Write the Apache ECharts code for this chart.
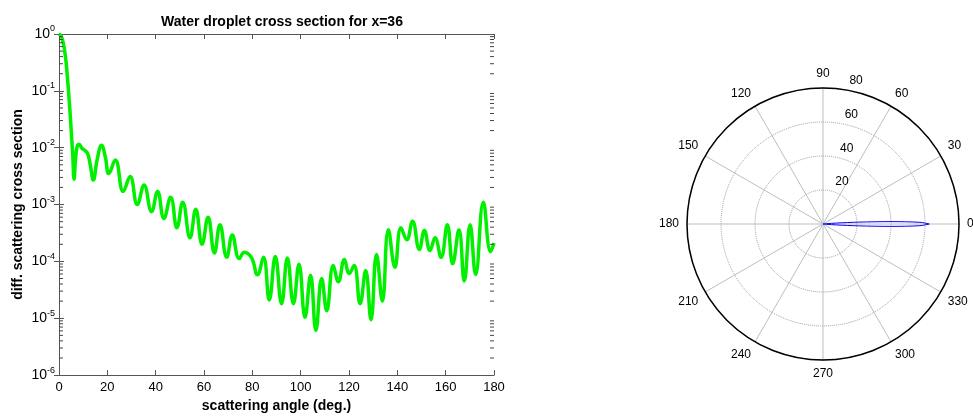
<!DOCTYPE html>
<html style="height: 100%">
<head>
  <meta charset="utf-8">
  <title>Water droplet cross section</title>
  <script src="https://cdn.jsdelivr.net/npm/echarts@6/dist/echarts.min.js"></script>
</head>
<body style="height: 100%; margin: 0; background: #fff">
  <div id="main" style="width: 973px; height: 418px"></div>
  <script type="text/javascript">
    // scattering angle (deg) and differential cross section
    var angleDeg = [0, 1, 2, 2.5, 3, 3.5, 4, 4.6, 5.2, 5.7, 6.25, 6.8, 7.5, 8.3, 9.5, 10.8, 11.9, 13.0, 14.2,
      15.8, 17.6, 19.2, 20.6, 23.3, 26.6, 29.4, 32.4, 35.2, 38.3, 40.8, 43.4, 46.2, 48.8, 51.2, 54.2,
      56.6, 59.2, 61.7, 64.3, 66.6, 69.4, 71.7, 74.6, 76.7, 79.7, 82.1, 84.6, 87.0, 89.5, 92.1, 94.5,
      97.0, 99.3, 101.8, 104.1, 106.3, 108.7, 110.8, 113.5, 115.6, 118.1, 120.1, 122.1, 124.6, 126.9,
      129.1, 131.4, 133.8, 136.3, 139.0, 141.5, 143.9, 146.3, 149.1, 151.2, 153.5, 155.6, 158.1, 160.7,
      162.9, 165.5, 167.7, 170.1, 172.4, 175.6, 178.6, 180];
    var crossSection = [1.0, 0.9, 0.62, 0.45, 0.3, 0.17, 0.09, 0.04, 0.016, 0.007, 0.0028, 0.006, 0.0105,
      0.0115, 0.0098, 0.0089, 0.0078, 0.0048, 0.0027, 0.0062, 0.011, 0.0068, 0.0035, 0.0061, 0.0017,
      0.0031, 0.001, 0.0022, 0.00075, 0.0017, 0.00057, 0.00134, 0.00039, 0.0011, 0.00026, 0.00083,
      0.0002, 0.0006, 0.00014, 0.00044, 0.000118, 0.00029, 0.000112, 0.000145, 0.000115, 0.000058,
      0.000118, 2.1e-5, 1.22e-4, 1.8e-5, 1.15e-4, 1.8e-5, 8.9e-5, 1.04e-5, 5.7e-5, 6.1e-6, 5.0e-5,
      1.36e-5, 8.5e-5, 4.4e-5, 1.08e-4, 6.1e-5, 8.5e-5, 1.8e-5, 6.9e-5, 9.4e-6, 1.32e-4, 2.0e-5,
      3.6e-4, 7.9e-5, 3.9e-4, 2.4e-4, 5.1e-4, 1.62e-4, 3.5e-4, 1.55e-4, 2.6e-4, 1.18e-4, 4.4e-4,
      9.1e-5, 3.6e-4, 4.5e-5, 4.4e-4, 5.9e-5, 1.1e-3, 1.48e-4, 2.1e-4];

    // polar lobe: angle (deg) and radius, one side; mirrored below the axis
    var lobeAngle = [0, 1, 2, 3, 4, 5, 6];
    var lobeRadius = [62.5, 57, 40, 21, 8, 2, 0];

    var xMin = 0, xMax = 180, xStep = 20;
    var yMin = 1e-6, yMax = 1;
    var ringMax = 80, ringStep = 20, spokeStep = 30;

    var curve = angleDeg.map(function (a, i) { return [a, crossSection[i]]; });

    var lobe = [];
    for (var i = 0; i < lobeAngle.length; i++) lobe.push([lobeRadius[i], lobeAngle[i]]);
    for (var j = lobeAngle.length - 1; j >= 0; j--) lobe.push([lobeRadius[j], 360 - lobeAngle[j]]);

    // minor ticks at 2..9 x 10^n
    var minorTicks = [];
    for (var e = -6; e < 0; e++) {
      for (var k = 2; k <= 9; k++) minorTicks.push([xMin, k * Math.pow(10, e)]);
    }

    var axisColor = '#555';
    var font = 'Liberation Sans, Arial, sans-serif';

    var option = {
      animation: false,
      textStyle: { fontFamily: font },
      title: {
        text: 'Water droplet cross section for x=36',
        left: 277,
        top: 10,
        textAlign: 'center',
        textStyle: { fontSize: 14, fontWeight: 'bold', color: '#000', fontFamily: font }
      },
      grid: { left: 59, right: 479, top: 34, bottom: 40 },
      xAxis: [
        {
          type: 'value', min: xMin, max: xMax, interval: xStep,
          name: 'scattering angle (deg.)', nameLocation: 'middle', nameGap: 22,
          nameTextStyle: { fontSize: 14, fontWeight: 'bold', color: '#000' },
          axisLine: { lineStyle: { color: axisColor } },
          axisTick: { inside: true, length: 5, lineStyle: { color: axisColor } },
          axisLabel: { color: '#000', fontSize: 13, margin: 6 },
          splitLine: { show: false }
        },
        {
          type: 'value', min: xMin, max: xMax, interval: xStep, position: 'top',
          axisLine: { lineStyle: { color: axisColor } },
          axisTick: { inside: true, length: 5, lineStyle: { color: axisColor } },
          axisLabel: { show: false },
          splitLine: { show: false }
        }
      ],
      yAxis: [
        {
          type: 'log', logBase: 10, min: yMin, max: yMax, splitNumber: 6,
          name: 'diff. scattering cross section', nameLocation: 'middle', nameGap: 34,
          nameTextStyle: { fontSize: 14, fontWeight: 'bold', color: '#000' },
          axisLine: { lineStyle: { color: axisColor } },
          axisTick: { inside: true, length: 5, lineStyle: { color: axisColor } },
          axisLabel: {
            margin: 4,
            formatter: function (v) {
              return '{b|10}{s|' + Math.round(Math.log10(v)) + '}';
            },
            rich: {
              b: { fontSize: 14, color: '#000' },
              s: { fontSize: 9, color: '#000', padding: [0, 0, 10, 0] }
            }
          },
          splitLine: { show: false }
        },
        {
          type: 'log', logBase: 10, min: yMin, max: yMax, splitNumber: 6, position: 'right',
          axisLine: { lineStyle: { color: axisColor } },
          axisTick: { inside: true, length: 5, lineStyle: { color: axisColor } },
          axisLabel: { show: false },
          splitLine: { show: false }
        }
      ],
      polar: [
        { center: [823, 224], radius: 136 },
        { center: [830.5, 215.7], radius: 136 }
      ],
      angleAxis: [
        {
          polarIndex: 0, type: 'value', min: 0, max: 360, interval: spokeStep,
          startAngle: 0, clockwise: false,
          axisLine: { lineStyle: { color: '#000', width: 1.5 } },
          axisTick: { show: false },
          axisLabel: {
            margin: 8, color: '#000', fontSize: 12,
            formatter: function (v) { return v === 360 ? '' : String(v); }
          },
          splitLine: { lineStyle: { color: '#bdbdbd', width: 1 } }
        },
        {
          polarIndex: 1, type: 'value', min: 0, max: 360, startAngle: 82, clockwise: false,
          axisLine: { show: false }, axisTick: { show: false },
          axisLabel: { show: false }, splitLine: { show: false }
        }
      ],
      radiusAxis: [
        {
          polarIndex: 0, min: 0, max: ringMax, interval: ringStep,
          axisLine: { show: false }, axisTick: { show: false }, axisLabel: { show: false },
          splitLine: { lineStyle: { color: '#999', type: 'dotted', width: 1 } }
        },
        {
          polarIndex: 1, min: 0, max: ringMax, interval: ringStep,
          axisLine: { show: false }, axisTick: { show: false }, splitLine: { show: false },
          axisLabel: {
            margin: 0, align: 'left', verticalAlign: 'middle', color: '#000', fontSize: 12,
            formatter: function (v) { return v === 0 ? '' : String(v); }
          }
        }
      ],
      series: [
        {
          type: 'custom',
          xAxisIndex: 0, yAxisIndex: 0,
          silent: true, clip: false, z: 5,
          data: minorTicks,
          renderItem: function (params, api) {
            var l = api.coord([xMin, api.value(1)]);
            var r = api.coord([xMax, api.value(1)]);
            var st = { stroke: '#444', lineWidth: 1 };
            return {
              type: 'group',
              children: [
                { type: 'line', shape: { x1: l[0], y1: l[1], x2: l[0] + 4, y2: l[1] }, style: st },
                { type: 'line', shape: { x1: r[0] - 4, y1: r[1], x2: r[0], y2: r[1] }, style: st }
              ]
            };
          }
        },
        {
          name: 'cross section',
          type: 'line',
          xAxisIndex: 0, yAxisIndex: 0,
          data: curve,
          showSymbol: false,
          smooth: 0.45,
          lineStyle: { color: '#00f000', width: 3.5 }
        },
        {
          name: 'polar lobe',
          type: 'line',
          coordinateSystem: 'polar',
          polarIndex: 0,
          data: lobe,
          showSymbol: false,
          smooth: 0.3,
          lineStyle: { color: '#0000ff', width: 1 }
        }
      ]
    };

    var chart = echarts.init(document.getElementById('main'));
    chart.setOption(option);
  </script>
</body>
</html>
